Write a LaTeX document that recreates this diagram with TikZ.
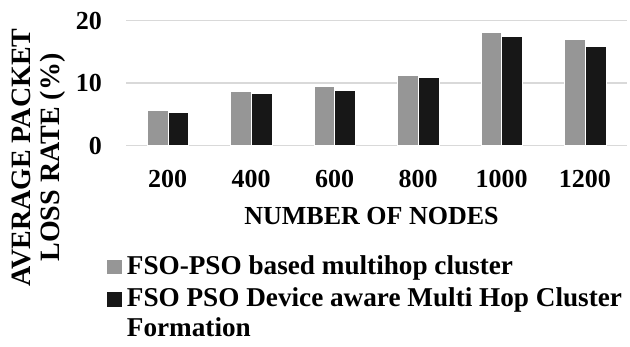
\documentclass[tikz,border=0pt]{standalone}
\usepackage{fontspec}
\setmainfont{Liberation Serif}
\definecolor{gridc}{HTML}{D9D9D9}
\definecolor{barA}{HTML}{969696}
\definecolor{barB}{HTML}{171717}
\begin{document}
\begin{tikzpicture}[x=1pt,y=-1pt,
  lbl/.style={inner sep=0pt,font=\bfseries\fontsize{26}{30}\selectfont},
  leg/.style={inner sep=0pt,font=\bfseries\fontsize{27.2}{30}\selectfont},
  grid/.style={draw=gridc,line width=1.5pt},
  bA/.style={fill=barA,draw=white,line width=0.4pt},
  bB/.style={fill=barB,draw=white,line width=0.4pt}]
\useasboundingbox (0,0) rectangle (630,347);
% gridlines
\foreach \v/\n in {0/g0,10/g10,20/g20}{
  \coordinate (\n a) at (126,{145.7-6.25*\v});
  \coordinate (\n b) at (627,{145.7-6.25*\v});
  \draw[grid] (\n a) -- (\n b);
}
% bars
\foreach \i/\a/\b/\c in {0/5.7/5.3/200,1/8.75/8.4/400,2/9.5/8.95/600,3/11.3/10.95/800,4/18.2/17.45/1000,5/17.05/15.9/1200}{
  \pgfmathsetmacro{\cx}{126+83.45*(\i+0.5)}
  \path[bA] ({\cx-20.8},145.7) rectangle (\cx,{145.7-6.25*\a});
  \path[bB] (\cx,145.7) rectangle ({\cx+20.8},{145.7-6.25*\b});
  \node[lbl,anchor=base] (cat\c) at (\cx,188) {\c};
}
% y tick labels
\node[lbl,anchor=east] (t20) at (102,20.7) {20};
\node[lbl,anchor=east] (t10) at (102,83.2) {10};
\node[lbl,anchor=east] (t0) at (102,145.7) {0};
% axis titles
\node[lbl,anchor=base] (xt) at (371.5,225) {NUMBER OF NODES};
\node[lbl,rotate=90,align=center,font=\bfseries\fontsize{28}{28.5}\selectfont] (yt) at (38.5,157.5) {AVERAGE PACKET\\LOSS RATE (\%)};
% legend
\coordinate (lA1) at (107.3,260);
\coordinate (lA2) at (121.7,274.4);
\coordinate (lB1) at (107.3,292.3);
\coordinate (lB2) at (121.7,306.7);
\fill[barA] (lA1) rectangle (lA2);
\fill[barB] (lB1) rectangle (lB2);
\node[leg,anchor=base west] (legA) at (126.7,275) {FSO-PSO based multihop cluster};
\node[leg,anchor=base west] (legB) at (126.7,306.7) {FSO PSO Device aware Multi Hop Cluster};
\node[leg,anchor=base west] (legC) at (126.7,336.7) {Formation};
\end{tikzpicture}
\end{document}
